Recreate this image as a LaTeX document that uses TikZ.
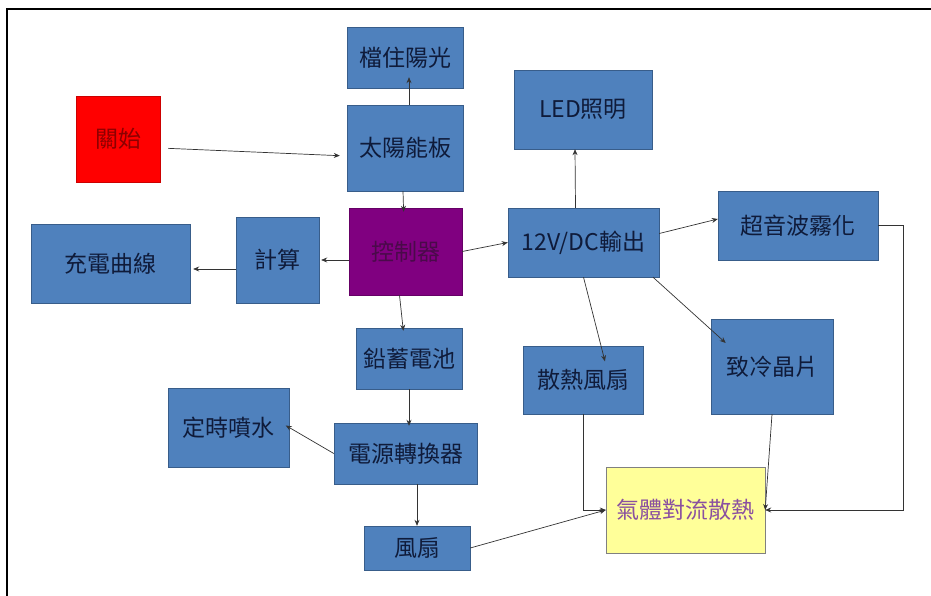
\documentclass[tikz,border=0pt]{standalone}
\usepackage{fontspec}
\newfontfamily\cjk{Noto Sans CJK TC}
\usetikzlibrary{arrows.meta}
\definecolor{boxblue}{HTML}{4F81BD}
\definecolor{boxline}{HTML}{385D8A}
\definecolor{boxtext}{HTML}{0F1B3A}
\definecolor{ctrlpurple}{HTML}{800080}
\definecolor{ctrltext}{HTML}{4A0A4A}
\definecolor{airyellow}{HTML}{FFFF99}
\definecolor{airtext}{HTML}{8A50A0}
\definecolor{wire}{HTML}{333333}
\tikzset{x=1pt, y=-1pt,
block/.style={ % Sets the properties for each box
rectangle,
draw=boxline,
fill=boxblue,
text=boxtext,
inner sep=0pt,
font=\cjk\fontsize{23}{23}\selectfont},
wire/.style={ % Connectors that bend
draw=wire,
line width=0.7pt,
-{Stealth[length=6pt,width=5pt]}},
every edge/.style={ % Sets the properties for each connector
draw=wire,
line width=0.7pt,
-{Stealth[length=6pt,width=5pt]}}}

\begin{document}
\begin{tikzpicture}
	\useasboundingbox (0,0) rectangle (931,596);
	\draw[line width=2pt] (7,596) -- (7,9) -- (931,9);
	\node[block, minimum width=116pt, minimum height=61pt] (shade) at (405,57.5) {檔住陽光};
	\node[block, fill=red, draw=red!80!black, text=red!55!black, minimum width=84pt, minimum height=86pt] (start) at (118,139) {關始};
	\node[block, minimum width=116pt, minimum height=86pt] (solar) at (405,148) {太陽能板};
	\node[block, minimum width=138pt, minimum height=79pt] (led) at (583,109.5) {LED照明};
	\node[block, fill=ctrlpurple, draw=ctrlpurple!80!black, text=ctrltext, minimum width=113pt, minimum height=87pt] (ctrl) at (405.5,251.5) {控制器};
	\node[block, minimum width=151pt, minimum height=69pt] (dc) at (583.5,242.5) {12V/DC輸出};
	\node[block, minimum width=160pt, minimum height=69pt] (mist) at (798,225.5) {超音波霧化};
	\node[block, minimum width=83pt, minimum height=86pt] (calc) at (277.5,260) {計算};
	\node[block, minimum width=159pt, minimum height=79pt] (curve) at (110.5,263.5) {充電曲線};
	\node[block, minimum width=106pt, minimum height=61pt] (battery) at (409,358.5) {鉛蓄電池};
	\node[block, minimum width=120pt, minimum height=68pt] (hfan) at (583,380) {散熱風扇};
	\node[block, minimum width=122pt, minimum height=95pt] (peltier) at (772,366.5) {致冷晶片};
	\node[block, minimum width=121pt, minimum height=79pt] (spray) at (228.5,427.5) {定時噴水};
	\node[block, minimum width=143pt, minimum height=61pt] (conv) at (405.5,453.5) {電源轉換器};
	\node[block, fill=airyellow, draw=gray, text=airtext, minimum width=159pt, minimum height=86pt] (air) at (685.5,510) {氣體對流散熱};
	\node[block, minimum width=106pt, minimum height=44pt] (fan) at (417,548) {風扇};
	\draw ([yshift=-9pt]start.east) edge[shorten <=8pt, shorten >=7pt] ([yshift=-8pt]solar.west);
	\draw ([xshift=4pt]solar.north) edge[shorten >=-11pt] ([xshift=4pt]shade.south);
	\draw ([xshift=-2pt]solar.south) edge[shorten >=-4pt] ([xshift=-2pt]ctrl.north);
	\draw (ctrl.west |- calc.east) edge[shorten >=2pt] (calc.east);
	\draw ([yshift=-9pt]calc.west) edge[shorten >=3pt] ([yshift=-5.5pt]curve.east);
	\draw (ctrl.east) edge (dc.west);
	\draw ([xshift=-8pt]dc.north) edge ([xshift=-8pt]led.south);
	\draw ([yshift=9pt]dc.east) edge ([yshift=6.5pt]mist.west);
	\draw (dc.south) edge[shorten >=-16pt] ([xshift=18pt]hfan.north);
	\draw ([xshift=69.5pt]dc.south) edge[shorten >=-36pt] ([xshift=-73pt]peltier.north);
	\draw ([xshift=-6pt]ctrl.south) edge[shorten >=-3pt] ([xshift=-6pt]battery.north);
	\draw (battery.south) edge[shorten >=-3pt] ([xshift=3.5pt]conv.north);
	\draw (conv.west) edge[shorten >=-4pt] (spray.east);
	\draw ([xshift=11.5pt]conv.south) edge (fan.north);
	\draw[wire] (mist.east) -- ++(25,0) |- (air.east);
	\draw[wire] (hfan.south) |- (air.west);
	\draw (peltier.south) edge (air.east);
	\draw (fan.east) edge (air.west);
\end{tikzpicture}
\end{document}
